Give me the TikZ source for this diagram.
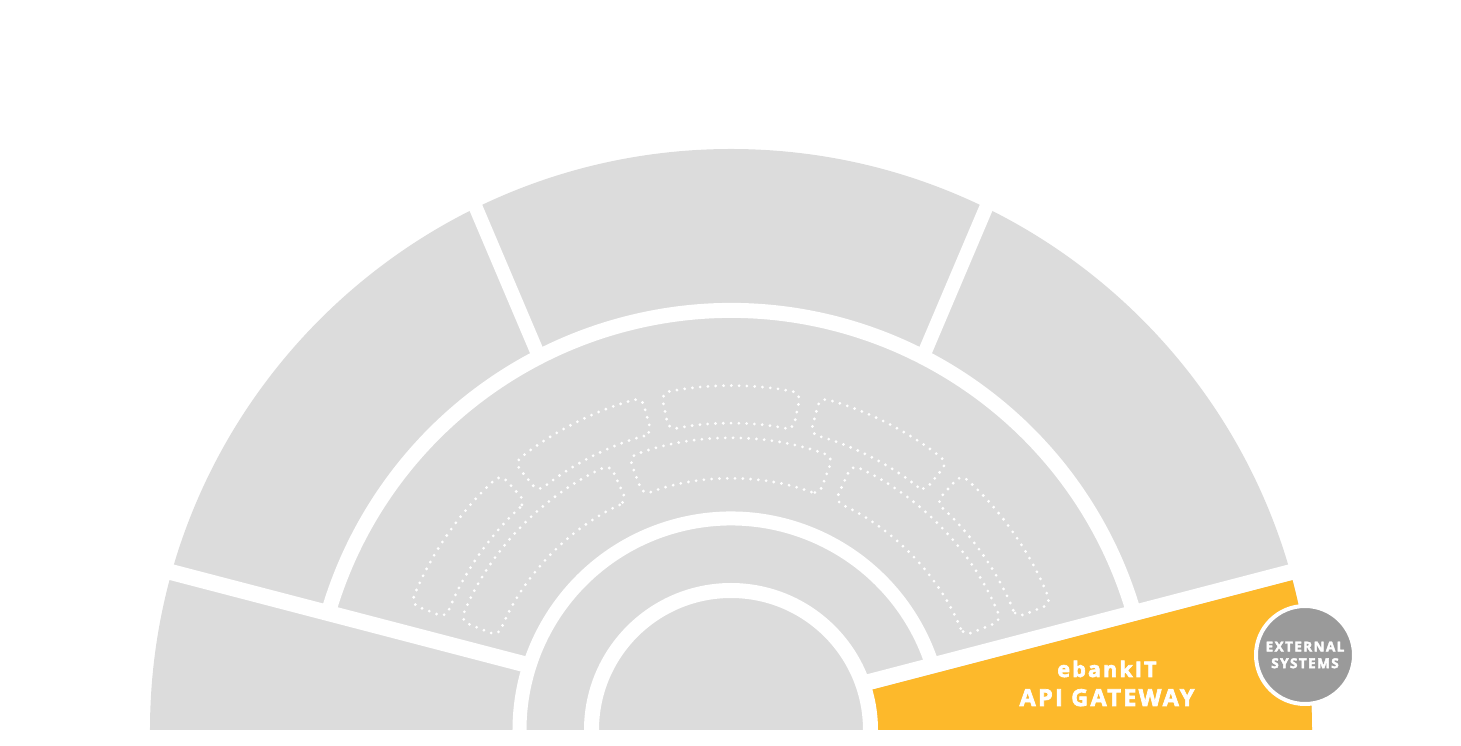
\documentclass[tikz,border=0pt]{standalone}
\usepackage{fontspec}
\setmainfont{Open Sans}
\newfontfamily\gatewayfont{Open Sans}[LetterSpace=10,FakeBold=3]
\usetikzlibrary{positioning}
\definecolor{ringgray}{HTML}{DCDCDC}
\definecolor{gatewayyellow}{HTML}{FDB92B}
\definecolor{extgray}{HTML}{9A9A9A}

\tikzset{
  gapline/.style={white,line width=#1},
  dotbox/.style={white,line width=3.1pt,line cap=round,dash pattern=on 0pt off 7.8pt,rounded corners=8pt},
  gatewaytext/.style={anchor=base,text=white,font=\gatewayfont\bfseries\fontsize{#1}{#1}\selectfont},
}

\begin{document}
\begin{tikzpicture}[x=1pt,y=1pt]
\useasboundingbox (-731,-16) rectangle (730,730);

\fill[ringgray] (-581,0) arc[start angle=180,end angle=0,radius=581] -- cycle;

\begin{scope}
\clip (0,0) -- (0,3.7) -- (700,186.1) -- (700,0) -- cycle;
\fill[gatewayyellow] (140,0) arc[start angle=0,end angle=90,radius=140] -- (0,581) arc[start angle=90,end angle=0,radius=581] -- cycle;
\end{scope}

\draw[gapline=15pt] (139.5,0) arc[start angle=0,end angle=180,radius=139.5];
\draw[gapline=14pt] (17:211.5) arc[start angle=17,end angle=180,radius=211.5];
\draw[gapline=15pt] (16:419.5) arc[start angle=16,end angle=164,radius=419.5];

\coordinate (rgapin) at (131.1,46.2);
\coordinate (rgapout) at (700,194.4);
\coordinate (lgapin) at (-201.5,64.5);
\coordinate (lgapout) at (-700,194.4);
\coordinate (ulgapin) at (-191.8,373.1);
\coordinate (ulgapout) at (-294.1,614.1);
\coordinate (urgapin) at (191.8,373.1);
\coordinate (urgapout) at (294.1,614.1);
\draw[gapline=16pt] (rgapin) -- (rgapout);
\draw[gapline=16pt] (lgapin) -- (lgapout);
\draw[gapline=14pt] (ulgapin) -- (ulgapout);
\draw[gapline=14pt] (urgapin) -- (urgapout);

\foreach \a/\b/\ri/\ro in {132/158.5/306.5/344, 105/129/306.5/344, 78.3/101.7/306.5/344, 51/75/306.5/344, 21.5/48/306.5/344,
                          114.5/158/251/291.5, 69.5/110.5/251/291.5, 22/65.5/251/291.5} {
\draw[dotbox] (\a:\ri) arc[start angle=\a,end angle=\b,radius=\ri] -- (\b:\ro) arc[start angle=\b,end angle=\a,radius=\ro] -- cycle;
}

\node (brand) at (376,53) [gatewaytext=21.5] {ebankIT};
\node (gateway) at (376,24) [gatewaytext=23.4] {API GATEWAY};

\node (ext) at (574,75) [circle,fill=extgray,draw=white,line width=4pt,minimum size=98pt,inner sep=0pt,align=center,text=white,
  font=\gatewayfont\bfseries\fontsize{13.6}{16.7}\selectfont] {EXTERNAL\\SYSTEMS};
\end{tikzpicture}
\end{document}
